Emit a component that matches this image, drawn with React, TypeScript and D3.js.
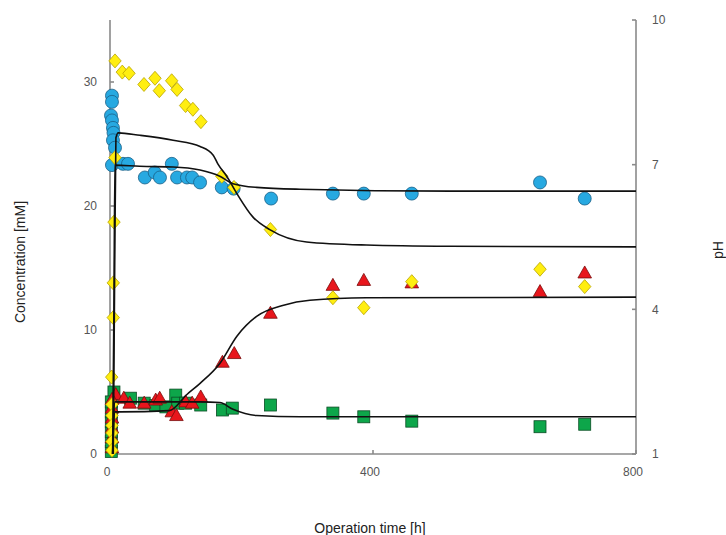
import React from "react";
import * as d3 from "d3";

// ---- data (time [h], concentration [mM]) ----
const blueT = [3, 3, 1.5, 3, 4.5, 5.3, 4.5, 7.6, 3, 19.8, 27.4, 53, 68, 76, 94, 102, 117, 125, 137, 170, 188, 245, 339, 386, 459, 654, 722];
const blueC = [28.9, 28.4, 27.3, 26.9, 26.3, 25.9, 25.3, 24.7, 23.3, 23.4, 23.4, 22.3, 22.7, 22.3, 23.4, 22.3, 22.3, 22.3, 21.9, 21.5, 21.4, 20.6, 21.0, 21.0, 21.0, 21.9, 20.6];

const yellowT = [7.6, 18.7, 28.9, 51.7, 68.4, 75, 93.8, 102, 115, 126, 138.3, 7.6, 6.1, 5, 5, 2.6, 3, 3, 3, 3, 3, 3, 170, 188.6, 244, 339, 386, 459, 654, 722];
const yellowC = [31.7, 30.8, 30.7, 29.8, 30.3, 29.3, 30.1, 29.4, 28.1, 27.8, 26.8, 23.9, 18.7, 13.8, 11.0, 6.2, 4.0, 3.1, 2.3, 1.7, 1.0, 0.3, 22.4, 21.5, 18.1, 12.6, 11.8, 13.9, 14.9, 13.5];

const redT = [8.7, 21, 30, 52, 69.5, 75.6, 94, 101, 115, 125, 138, 171, 189, 244, 339, 386, 459, 654, 722, 3, 3, 3, 3, 3, 3];
const redC = [4.8, 4.5, 4.1, 4.1, 4.35, 4.5, 3.4, 3.1, 4.2, 4.1, 4.6, 7.4, 8.1, 11.35, 13.6, 14.0, 13.8, 13.1, 14.6, 0.5, 1.3, 2.1, 2.9, 3.7, 4.4];

const greenT = [6, 31, 52, 69.5, 85, 100, 103, 115, 138, 171, 186, 244, 339, 386, 459, 654, 722, 2, 2, 2, 2, 2, 2];
const greenC = [5.0, 4.5, 4.1, 3.9, 3.8, 4.75, 4.1, 4.1, 3.95, 3.55, 3.7, 3.95, 3.3, 3.0, 2.65, 2.2, 2.4, 0.2, 1.0, 1.8, 2.6, 3.4, 4.2];

// fitted curves
const fitAT = [4, 6, 7.5, 45, 96, 137, 167, 187, 223, 289, 517, 800];
const fitAC = [0, 12, 23.3, 23.2, 23.15, 22.9, 22.4, 21.8, 21.5, 21.35, 21.2, 21.2];
const fitBT = [5, 7, 9, 12.6, 45.6, 96, 137, 157, 164, 177.5, 193, 217.5, 243, 299, 390, 517, 800];
const fitBC = [0, 14, 25.5, 25.9, 25.7, 25.3, 24.8, 24.1, 23.4, 22.4, 21.0, 19.1, 18.1, 17.1, 16.85, 16.75, 16.7];
const fitCT = [4, 7, 15, 90, 117, 137, 167, 193, 223, 264, 304, 390, 800];
const fitCC = [0, 3.4, 3.4, 3.5, 4.8, 5.7, 7.3, 9.5, 11.1, 12.0, 12.4, 12.6, 12.65];
const fitDT = [4, 7, 20, 137, 167, 187, 223, 289, 800];
const fitDC = [0, 4.2, 4.2, 4.2, 4.15, 3.6, 3.1, 3.0, 3.0];

const xTicks = [0, 400, 800];
const yTicks = [0, 10, 20, 30];
const phTicks = [1, 4, 7, 10];

const W = 726, H = 535;
const L = 110, R = 636, T = 20, B = 454;

export default function App() {
  const x = d3.scaleLinear().domain([0, 800]).range([L, R]);
  const y = d3.scaleLinear().domain([0, 35]).range([B, T]);
  const yPh = d3.scaleLinear().domain([1, 10]).range([B, T]);
  const line = d3.line<[number, number]>().x(d => x(d[0])).y(d => y(d[1])).curve(d3.curveMonotoneX);
  const zip = (a: number[], b: number[]) => a.map((v, i) => [v, b[i]] as [number, number]);
  const fits = [zip(fitAT, fitAC), zip(fitBT, fitBC), zip(fitCT, fitCC), zip(fitDT, fitDC)];
  const axisCol = "#8a8a8a";
  const tickFont = { fontFamily: "Liberation Sans, Arial, sans-serif", fontSize: 12, fill: "#555" };
  const titleFont = { fontFamily: "Liberation Sans, Arial, sans-serif", fontSize: 14, fill: "#222" };
  const diamond = "M0,-7L6.2,0L0,7L-6.2,0Z";
  const tri = "M0,-7L6.8,5L-6.8,5Z";

  return (
    <svg width={W} height={H} style={{ position: "absolute", left: 0, top: 0, background: "#fff" }}>
      {/* axes */}
      <g stroke={axisCol} strokeWidth={1.6} fill="none">
        <line x1={L} y1={T} x2={L} y2={B} />
        <line x1={L} y1={B} x2={R} y2={B} />
        <line x1={R} y1={T} x2={R} y2={B} />
        {yTicks.map(t => <line key={"yt" + t} x1={L} x2={L + 4} y1={y(t)} y2={y(t)} />)}
        {phTicks.map(t => <line key={"pt" + t} x1={R - 4} x2={R} y1={yPh(t)} y2={yPh(t)} />)}
        {xTicks.map(t => <line key={"xt" + t} x1={x(t)} x2={x(t)} y1={B} y2={B - 4} />)}
      </g>
      {yTicks.map(t => (
        <text key={"yl" + t} x={L - 13} y={y(t)} dy="0.35em" textAnchor="end" {...tickFont}>{t}</text>
      ))}
      {phTicks.map(t => (
        <text key={"pl" + t} x={R + 16} y={yPh(t)} dy="0.35em" textAnchor="start" {...tickFont}>{t}</text>
      ))}
      {xTicks.map(t => (
        <text key={"xl" + t} x={x(t) - 3} y={B + 18} dy="0.35em" textAnchor="middle" {...tickFont}>{t}</text>
      ))}
      <text transform={`translate(25,262) rotate(-90)`} textAnchor="middle" {...titleFont}>Concentration [mM]</text>
      <text x={370} y={533} textAnchor="middle" {...titleFont}>Operation time [h]</text>
      <text transform={`translate(723,250) rotate(-90)`} textAnchor="middle" {...titleFont}>pH</text>

      {/* markers */}
      <g fill="#27A9E1" stroke="#1b5f86" strokeWidth={0.8}>
        {blueT.map((t, i) => <circle key={"b" + i} cx={x(t)} cy={y(blueC[i])} r={6.5} />)}
      </g>
      <g fill="#0DA64A" stroke="#0b4d25" strokeWidth={0.8}>
        {greenT.map((t, i) => <rect key={"g" + i} x={x(t) - 6} y={y(greenC[i]) - 6} width={12} height={12} />)}
      </g>
      <g fill="#E8161C" stroke="#7a0d0d" strokeWidth={0.8}>
        {redT.map((t, i) => <path key={"r" + i} d={tri} transform={`translate(${x(t)},${y(redC[i])})`} />)}
      </g>
      <g fill="#FFEE10" stroke="#b8a300" strokeWidth={0.8}>
        {yellowT.map((t, i) => <path key={"yw" + i} d={diamond} transform={`translate(${x(t)},${y(yellowC[i])})`} />)}
      </g>

      {/* fitted lines */}
      <g fill="none" stroke="#111" strokeWidth={1.6}>
        {fits.map((f, i) => <path key={"f" + i} d={line(f)!} />)}
      </g>
    </svg>
  );
}
